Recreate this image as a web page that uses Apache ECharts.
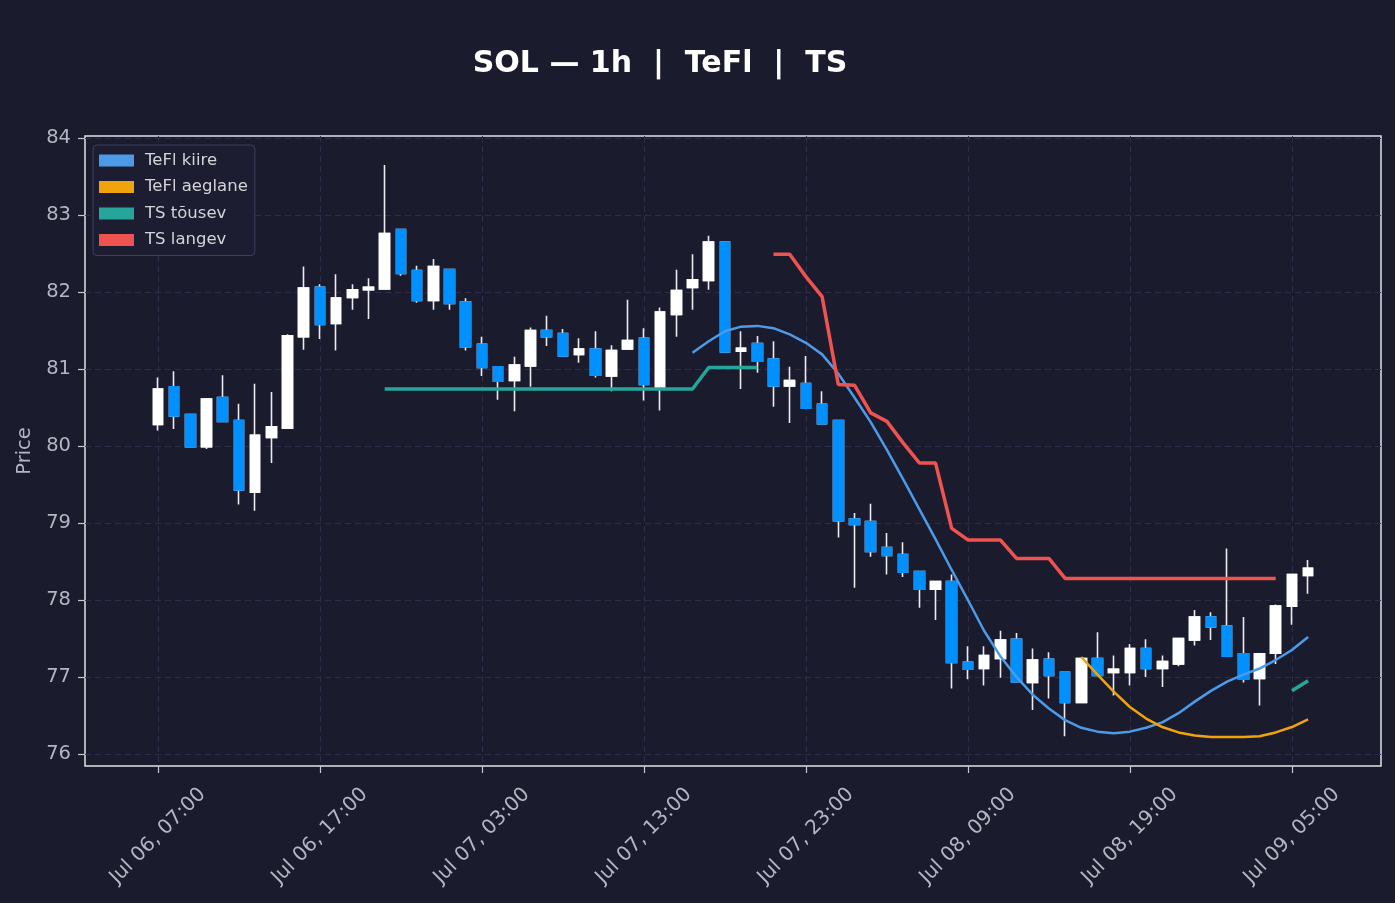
<!DOCTYPE html>
<html>
<head>
<meta charset="utf-8">
<script src="https://cdn.jsdelivr.net/npm/echarts@6/dist/echarts.min.js"></script>
<style>
  html, body { margin: 0; padding: 0; background: #1b1b2e; }
  #main { width: 1395px; height: 903px; }
</style>
</head>
<body>
<div id="main"></div>
<script>
// hourly candles, first one at Jul 06 07:00
var opens = [80.28, 80.77, 80.41, 79.99, 80.63, 80.33, 79.40, 80.11, 80.23, 81.42,
  82.06, 81.59, 81.93, 82.03, 82.04, 82.81, 82.28, 81.89, 82.29, 81.87,
  81.32, 81.03, 80.85, 81.04, 81.50, 81.46, 81.19, 81.26, 80.91, 81.26,
  81.40, 80.76, 81.71, 82.06, 82.15, 82.65, 81.23, 81.33, 81.13, 80.78,
  80.81, 80.54, 80.33, 79.05, 79.02, 78.68, 78.59, 78.37, 78.14, 78.24,
  77.19, 77.11, 77.24, 77.49, 76.93, 77.23, 77.06, 76.67, 77.24, 77.06,
  77.06, 77.37, 77.11, 77.17, 77.48, 77.78, 77.66, 77.30, 76.98, 77.31,
  77.92, 78.32];
var closes = [80.74, 80.39, 79.99, 80.61, 80.32, 79.43, 80.14, 80.25, 81.43, 82.05,
  81.58, 81.92, 82.03, 82.06, 82.76, 82.24, 81.89, 82.33, 81.85, 81.29,
  81.02, 80.84, 81.05, 81.50, 81.42, 81.17, 81.26, 80.92, 81.24, 81.37,
  80.80, 81.74, 82.02, 82.16, 82.65, 81.22, 81.27, 81.10, 80.78, 80.85,
  80.49, 80.29, 79.03, 78.98, 78.63, 78.58, 78.36, 78.14, 78.24, 77.19,
  77.10, 77.28, 77.48, 76.94, 77.22, 77.02, 76.67, 77.24, 77.02, 77.10,
  77.37, 77.11, 77.20, 77.50, 77.78, 77.65, 77.27, 76.97, 77.30, 77.92,
  78.33, 78.41];
var lows = [80.20, 80.22, 79.98, 79.96, 80.31, 79.24, 79.16, 79.78, 80.23, 81.25,
  81.39, 81.24, 81.77, 81.65, 82.04, 82.21, 81.86, 81.77, 81.77, 81.24,
  80.91, 80.60, 80.45, 80.77, 81.30, 81.17, 81.08, 80.89, 80.71, 81.25,
  80.59, 80.46, 81.42, 81.77, 82.03, 81.22, 80.74, 80.95, 80.51, 80.30,
  80.48, 80.29, 78.81, 78.16, 78.56, 78.33, 78.30, 77.90, 77.74, 76.85,
  76.97, 76.89, 76.99, 76.94, 76.57, 76.72, 76.23, 76.67, 77.02, 76.76,
  76.89, 77.00, 76.87, 77.14, 77.41, 77.48, 77.26, 76.93, 76.63, 77.17,
  77.68, 78.08];
var highs = [80.89, 80.97, 80.41, 80.61, 80.92, 80.55, 80.81, 80.70, 81.45, 82.33,
  82.10, 82.23, 82.10, 82.18, 83.65, 82.81, 82.34, 82.43, 82.30, 81.92,
  81.42, 81.03, 81.16, 81.54, 81.69, 81.52, 81.40, 81.49, 81.31, 81.90,
  81.53, 81.80, 82.29, 82.49, 82.73, 82.65, 81.49, 81.43, 81.36, 81.03,
  81.17, 80.71, 80.33, 79.13, 79.25, 78.87, 78.75, 78.38, 78.25, 78.33,
  77.40, 77.40, 77.60, 77.57, 77.37, 77.32, 77.06, 77.25, 77.58, 77.28,
  77.43, 77.49, 77.28, 77.50, 77.87, 77.84, 78.67, 77.78, 77.30, 77.94,
  78.33, 78.52];

// indicator lines: first candle index + values
var tefKiireStart = 33;
var tefKiire = [81.21, 81.36, 81.49, 81.55, 81.56, 81.53, 81.45, 81.34, 81.19, 80.94,
  80.63, 80.31, 79.95, 79.57, 79.18, 78.79, 78.39, 78.00, 77.60, 77.27,
  77.00, 76.77, 76.59, 76.44, 76.34, 76.29, 76.27, 76.29, 76.34, 76.41,
  76.53, 76.68, 76.82, 76.94, 77.03, 77.11, 77.22, 77.35, 77.52];
var tefAeglaneStart = 57;
var tefAeglane = [77.26, 77.03, 76.81, 76.61, 76.46, 76.35, 76.28, 76.24, 76.22, 76.22,
  76.22, 76.23, 76.28, 76.35, 76.45];
var tsUpStart1 = 14;
var tsUp1 = [80.74, 80.74, 80.74, 80.74, 80.74, 80.74, 80.74, 80.74, 80.74, 80.74,
  80.74, 80.74, 80.74, 80.74, 80.74, 80.74, 80.74, 80.74, 80.74, 80.74,
  81.02, 81.02, 81.02, 81.02];
var tsUpStart2 = 70;
var tsUp2 = [76.82, 76.95];
var tsDownStart = 38;
var tsDown = [82.49, 82.49, 82.20, 81.94, 80.80, 80.79, 80.43, 80.32, 80.04, 79.78,
  79.78, 78.93, 78.78, 78.78, 78.78, 78.54, 78.54, 78.54, 78.28, 78.28,
  78.28, 78.28, 78.28, 78.28, 78.28, 78.28, 78.28, 78.28, 78.28, 78.28,
  78.28, 78.28];

var yTicks = [76, 77, 78, 79, 80, 81, 82, 83, 84];

// category axis padded by 4 empty hours each side
var PAD = 4;
var N = opens.length;
var months = ['Jan', 'Feb', 'Mar', 'Apr', 'May', 'Jun', 'Jul', 'Aug', 'Sep', 'Oct', 'Nov', 'Dec'];
var t0 = Date.UTC(2025, 6, 6, 7);
var cats = [];
for (var i = 0; i < N + 2 * PAD; i++) {
  var d = new Date(t0 + (i - PAD) * 3600000);
  var dd = ('0' + d.getUTCDate()).slice(-2);
  var hh = ('0' + d.getUTCHours()).slice(-2);
  cats.push(months[d.getUTCMonth()] + ' ' + dd + ', ' + hh + ':00');
}
function showTick(idx) {
  return idx >= PAD && (idx - PAD) % 10 === 0;
}

var wickData = [], bodyData = [];
for (var k = 0; k < N; k++) {
  wickData.push([k + PAD, opens[k], closes[k], lows[k], highs[k]]);
  bodyData.push([k + PAD, opens[k], closes[k],
    Math.min(opens[k], closes[k]), Math.max(opens[k], closes[k])]);
}
function lineData(parts) {
  var arr = [];
  for (var j = 0; j < cats.length; j++) arr.push('-');
  parts.forEach(function (p) {
    p[1].forEach(function (v, n) { arr[p[0] + n + PAD] = v; });
  });
  return arr;
}

var labelColor = '#b4b4c2';
var gridColor = '#2e2e4c';

var chartDom = document.getElementById('main');
var myChart = echarts.init(chartDom, null, { renderer: 'canvas' });
var option = {
  backgroundColor: '#1b1b2e',
  animation: false,
  textStyle: { fontFamily: 'DejaVu Sans' },
  title: {
    text: 'SOL \u2014 1h  |  TeFl  |  TS',
    left: 655,
    top: 44,
    textAlign: 'center',
    textStyle: { color: '#ffffff', fontSize: 30, fontWeight: 'bold', fontFamily: 'DejaVu Sans' }
  },
  legend: {
    data: ['TeFl kiire', 'TeFl aeglane', 'TS tõusev', 'TS langev'],
    orient: 'vertical',
    left: 93,
    top: 145,
    padding: [7, 7, 7, 6],
    itemWidth: 35,
    itemHeight: 12,
    itemGap: 9.5,
    icon: 'rect',
    backgroundColor: '#1d1d32',
    borderColor: '#3e3e5e',
    borderWidth: 1,
    borderRadius: 4,
    textStyle: { color: '#d4d4d8', fontSize: 16.5, padding: [0, 0, 0, 6] }
  },
  grid: {
    left: 85, right: 14, top: 136, bottom: 137,
    show: true,
    borderColor: '#e2e2e6',
    borderWidth: 1.5,
    backgroundColor: 'transparent',
    outerBoundsMode: 'none'
  },
  xAxis: {
    type: 'category',
    data: cats,
    boundaryGap: true,
    axisLine: { show: false },
    axisTick: {
      show: true, alignWithLabel: true, interval: showTick, length: 7,
      lineStyle: { color: '#c8c8cc', width: 1.2 }
    },
    axisLabel: {
      interval: showTick, rotate: 45, align: 'center', verticalAlign: 'middle',
      margin: 70, color: labelColor, fontSize: 20
    },
    splitLine: {
      show: true, interval: showTick, alignWithLabel: true,
      lineStyle: { color: gridColor, type: [6, 4], width: 1 }
    }
  },
  yAxis: {
    type: 'value',
    min: 75.844,
    max: 84.026,
    name: 'Price',
    nameLocation: 'middle',
    nameGap: 50,
    nameTextStyle: { color: labelColor, fontSize: 19.5 },
    axisLine: { show: false },
    axisTick: { show: true, length: 7, customValues: yTicks, lineStyle: { color: '#c8c8cc', width: 1.2 } },
    axisLabel: { customValues: yTicks, color: labelColor, fontSize: 19.5, margin: 14 },
    splitLine: { show: true, lineStyle: { color: gridColor, type: [6, 4], width: 1 } }
  },
  series: [
    {
      name: 'wicks',
      type: 'candlestick',
      data: wickData,
      encode: { x: 0, y: [1, 2, 3, 4] },
      barWidth: 10,
      itemStyle: {
        color: 'rgba(0,0,0,0)', color0: 'rgba(0,0,0,0)',
        borderColor: '#ececf0', borderColor0: '#ececf0', borderWidth: 1.6
      },
      silent: true
    },
    {
      name: 'bodies',
      type: 'candlestick',
      data: bodyData,
      encode: { x: 0, y: [1, 2, 3, 4] },
      barWidth: 10,
      itemStyle: {
        color: '#ffffff', color0: '#0090ff',
        borderColor: '#ffffff', borderColor0: '#0090ff', borderWidth: 1.6
      },
      silent: true
    },
    {
      name: 'TeFl kiire', type: 'line', data: lineData([[tefKiireStart, tefKiire]]),
      symbol: 'none', color: '#4c9be8', lineStyle: { width: 2.5 }
    },
    {
      name: 'TeFl aeglane', type: 'line', data: lineData([[tefAeglaneStart, tefAeglane]]),
      symbol: 'none', color: '#f0a30a', lineStyle: { width: 2.5 }
    },
    {
      name: 'TS tõusev', type: 'line', data: lineData([[tsUpStart1, tsUp1], [tsUpStart2, tsUp2]]),
      symbol: 'none', color: '#26a69a', lineStyle: { width: 3.5 }
    },
    {
      name: 'TS langev', type: 'line', data: lineData([[tsDownStart, tsDown]]),
      symbol: 'none', color: '#ef5350', lineStyle: { width: 3.5 }
    }
  ]
};
option && myChart.setOption(option);
</script>
</body>
</html>
